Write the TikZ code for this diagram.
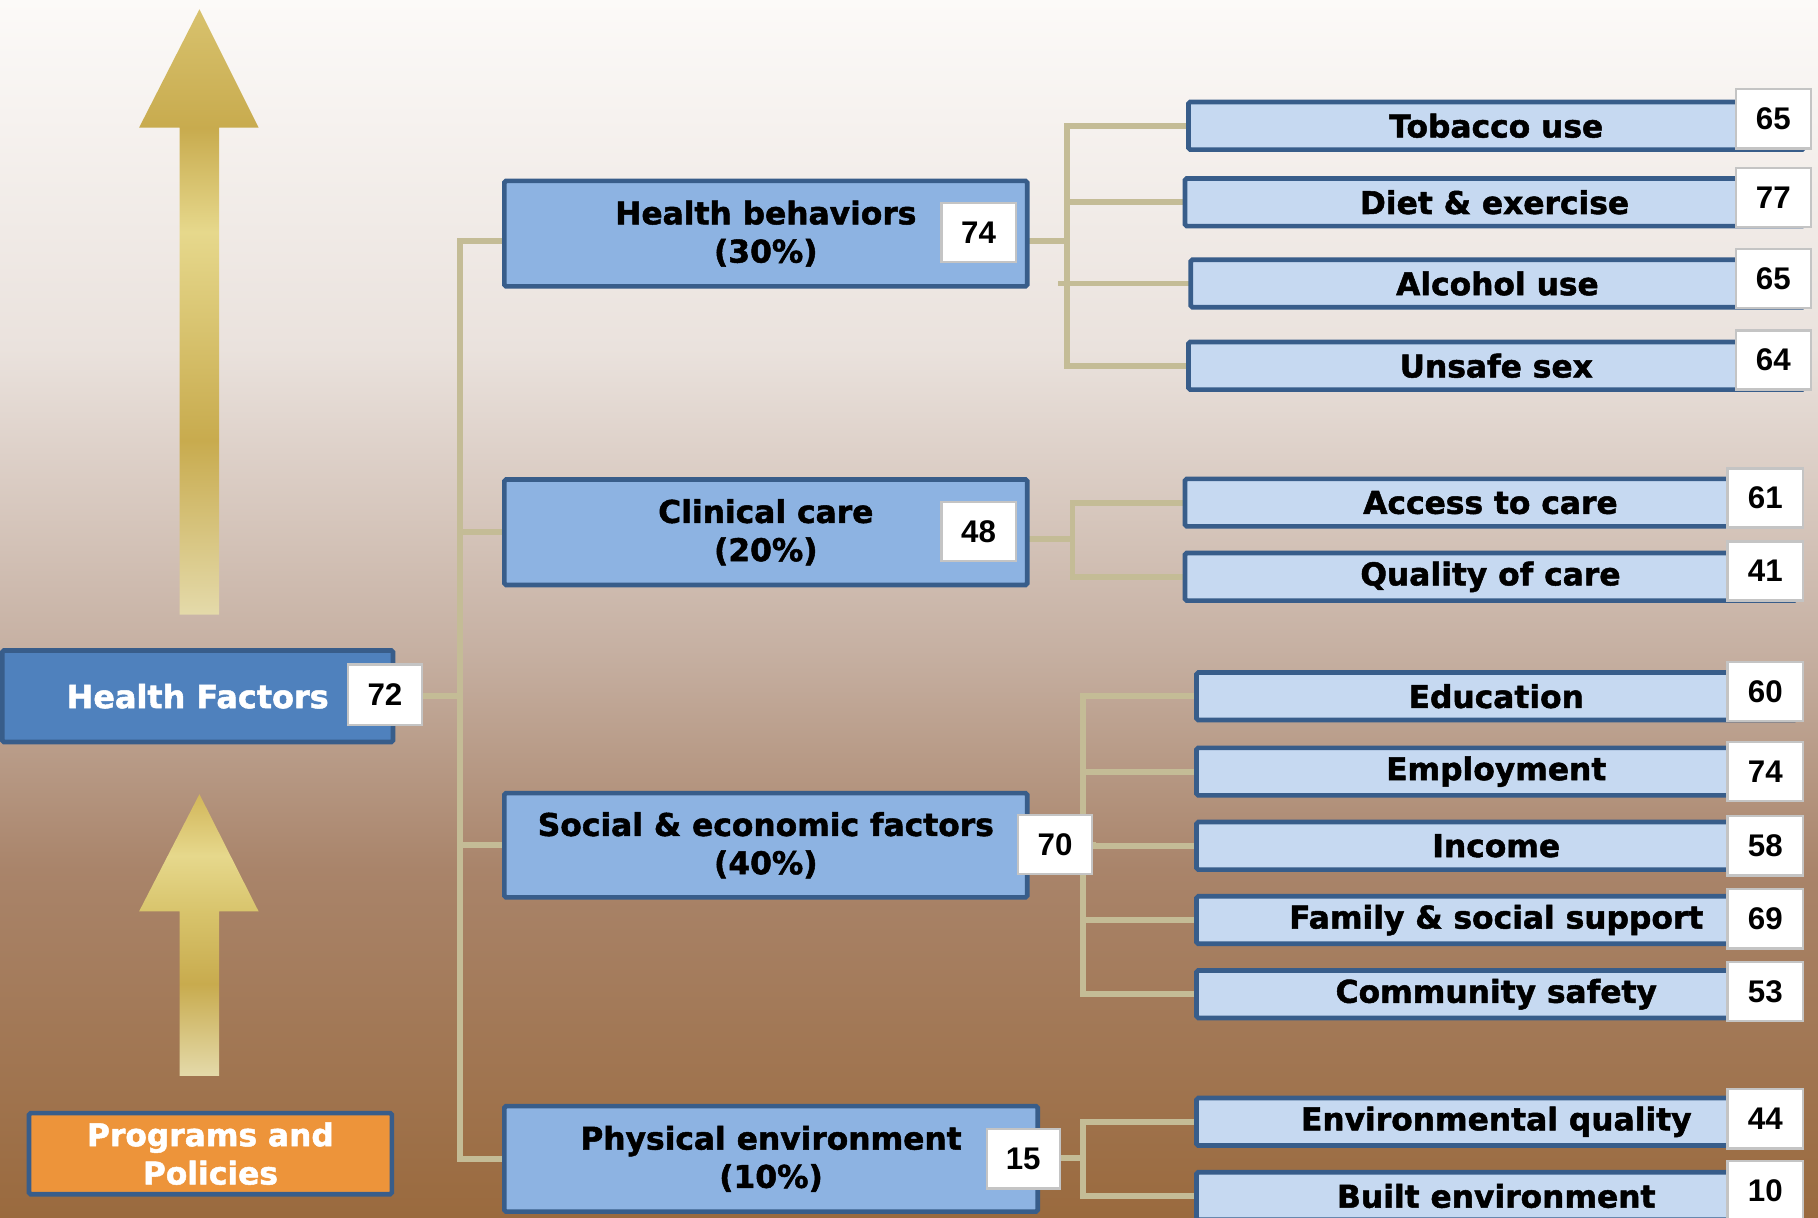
\documentclass[tikz,border=0pt]{standalone}
\usepackage{fontspec}
\newfontfamily\lblfont{DejaVu Sans}[BoldFeatures={FakeBold=1.6}]
\newfontfamily\numfont{Liberation Sans}
\usetikzlibrary{calc}
\definecolor{bordblue}{HTML}{385D8A}
\definecolor{hfblue}{HTML}{4F81BD}
\definecolor{midblue}{HTML}{8DB3E2}
\definecolor{lightblue}{HTML}{C6D9F1}
\definecolor{orangebox}{HTML}{ED943A}
\definecolor{conncol}{HTML}{C4BC96}
\definecolor{numgray}{HTML}{C4C4C4}
\definecolor{bgA}{HTML}{FCFAF8}
\definecolor{bgB}{HTML}{EAE2DD}
\definecolor{bgC}{HTML}{C6B0A2}
\definecolor{bgD}{HTML}{A9846A}
\definecolor{bgE}{HTML}{9A6A3E}
\definecolor{ap}{HTML}{E4DAAA}
\definecolor{ad}{HTML}{C8AB4E}
\definecolor{al}{HTML}{E6D88C}
\definecolor{at}{HTML}{D8C26E}
\definecolor{ab}{HTML}{D8C46C}
\definecolor{at2}{HTML}{D2B65A}
\pgfdeclareverticalshading{bgsh}{100bp}{color(0bp)=(bgE); color(25bp)=(bgE); color(39.3bp)=(bgD); color(48.3bp)=(bgC); color(60.7bp)=(bgB); color(75bp)=(bgA); color(100bp)=(bgA)}
\pgfdeclareverticalshading{arrowtop}{100bp}{color(0bp)=(ap); color(25bp)=(ap); color(39.4bp)=(ad); color(56.6bp)=(al); color(65.2bp)=(ad); color(75bp)=(at); color(100bp)=(at)}
\pgfdeclareverticalshading{arrowbot}{100bp}{color(0bp)=(ap); color(25bp)=(ap); color(41.3bp)=(ad); color(54.2bp)=(ab); color(64.1bp)=(al); color(75bp)=(at2); color(100bp)=(at2)}
\pgfdeclarelayer{back}
\pgfdeclarelayer{conn}
\pgfsetlayers{back,conn,main}
\tikzset{
  lbl/.style={font={\lblfont\bfseries\fontsize{27}{33}\selectfont}, align=center, inner sep=0pt},
  hfbox/.style={lbl, draw=bordblue, line width=4pt, fill=hfblue, text=white, rounded corners=1.5pt},
  ppbox/.style={lbl, draw=bordblue, line width=4pt, fill=orangebox, text=white, rounded corners=1.5pt},
  lvbox/.style={lbl, draw=bordblue, line width=4pt, fill=midblue, text=black, rounded corners=1.5pt, minimum height=91pt},
  chbox/.style={lbl, draw=bordblue, line width=4pt, fill=lightblue, text=black, rounded corners=1.5pt, minimum height=41pt},
  numbox/.style={draw=numgray, line width=2pt, fill=white, text=black, inner sep=0pt,
     font={\numfont\bfseries\fontsize{27}{30}\selectfont}, minimum height=51pt},
  conn/.style={draw=conncol, line width=5pt, line cap=rect}
}
\begin{document}
\begin{tikzpicture}[x=1pt,y=-1pt]
\useasboundingbox (0,0) rectangle (1568,1050);
\clip (0,0) rectangle (1568,1050);
\begin{pgfonlayer}{back}
\shade[shading=bgsh] (0,0) rectangle (1568,1050);
\shade[shading=arrowtop] (155,530) -- (155,110) -- (120,110) -- (172,8) -- (223,110) -- (189,110) -- (189,530) -- cycle;
\shade[shading=arrowbot] (155,928) -- (155,786) -- (120,786) -- (172,685) -- (223,786) -- (189,786) -- (189,928) -- cycle;
\end{pgfonlayer}

% left column
\node[hfbox, minimum width=337pt, minimum height=79pt, font={\lblfont\bfseries\fontsize{27.5}{33}\selectfont}] (hf) at (170.5,600.5) {Health Factors};
\node[numbox, minimum width=64pt, minimum height=52pt] (n72) at (332,599) {72};
\node[ppbox, minimum width=313pt, minimum height=70pt] (pp) at (181.5,995) {Programs and\\Policies};

% level 2
\node[lvbox, minimum width=451pt] (hb) at (660.5,201.5) {Health behaviors\\(30\%)};
\node[numbox, minimum width=64pt] (nhb) at (844,200.5) {74};
\node[lvbox, minimum width=451pt] (cc) at (660.5,459) {Clinical care\\(20\%)};
\node[numbox, minimum width=64pt] (ncc) at (844,458.5) {48};
\node[lvbox, minimum width=451pt, minimum height=90pt] (se) at (660.5,729) {Social \& economic factors\\(40\%)};
\node[numbox, minimum width=64pt] (nse) at (910,728.5) {70};
\node[lvbox, minimum width=460pt] (pe) at (665,999.5) {Physical environment\\(10\%)};
\node[numbox, minimum width=63pt] (npe) at (882.5,999.5) {15};

% health behaviors children
\node[chbox, minimum width=531pt] (tob) at (1290.5,108.5) {Tobacco use};
\node[numbox, minimum width=65pt] (ntob) at (1529.5,102.5) {65};
\node[chbox, minimum width=534pt] (diet) at (1289,174.5) {Diet \& exercise};
\node[numbox, minimum width=65pt] (ndiet) at (1529.5,170.5) {77};
\node[chbox, minimum width=529pt] (alc) at (1291.5,244.5) {Alcohol use};
\node[numbox, minimum width=65pt] (nalc) at (1529.5,240) {65};
\node[chbox, minimum width=531pt] (uns) at (1290.5,315.5) {Unsafe sex};
\node[numbox, minimum width=65pt] (nuns) at (1529.5,310.5) {64};

% clinical care children
\node[chbox, minimum width=527pt] (acc) at (1285.5,433.5) {Access to care};
\node[numbox, minimum width=65pt] (nacc) at (1522.5,429.5) {61};
\node[chbox, minimum width=527pt] (qual) at (1285.5,497.5) {Quality of care};
\node[numbox, minimum width=65pt] (nqual) at (1522.5,492.5) {41};

% social & economic children
\node[chbox, minimum width=517pt] (edu) at (1290.5,600.5) {Education};
\node[numbox, minimum width=65pt] (nedu) at (1522.5,596.5) {60};
\node[chbox, minimum width=517pt] (emp) at (1290.5,665.5) {Employment};
\node[numbox, minimum width=65pt] (nemp) at (1522.5,665.5) {74};
\node[chbox, minimum width=517pt] (inc) at (1290.5,729.5) {Income};
\node[numbox, minimum width=65pt] (ninc) at (1522.5,729.5) {58};
\node[chbox, minimum width=517pt] (fam) at (1290.5,793.5) {Family \& social support};
\node[numbox, minimum width=65pt] (nfam) at (1522.5,792.5) {69};
\node[chbox, minimum width=517pt] (com) at (1290.5,857.5) {Community safety};
\node[numbox, minimum width=65pt] (ncom) at (1522.5,855) {53};

% physical environment children
\node[chbox, minimum width=517pt] (env) at (1290.5,967.5) {Environmental quality};
\node[numbox, minimum width=65pt] (nenv) at (1522.5,965) {44};
\node[chbox, minimum width=517pt] (blt) at (1290.5,1031.5) {Built environment};
\node[numbox, minimum width=65pt] (nblt) at (1522.5,1027) {10};

% trunk coordinates
\coordinate (T0) at (397,600);
\coordinate (T0b) at (397,208);
\coordinate (T1) at (920,208);
\coordinate (T2) at (925,465);
\coordinate (T3) at (934,729);
\coordinate (T4) at (934,999);

\begin{pgfonlayer}{conn}
% health factors tree
\draw[conn] (n72.east |- T0) -- (T0);
\draw[conn] (hb.west |- T0b) -- (T0b);
\draw[conn] (cc.west) -- (cc.west -| T0);
\draw[conn] (se.west) -- (se.west -| T0);
\draw[conn] (pe.west) -- (pe.west -| T0);
\draw[conn] (T0b) -- (pe.west -| T0);
% health behaviors
\draw[conn] (hb.east |- T1) -- (T1);
\draw[conn] (tob.west -| T1) -- (uns.west -| T1);
\draw[conn] (tob.west) -- (tob.west -| T1);
\draw[conn] (diet.west) -- (diet.west -| T1);
\draw[conn] (alc.west) -- ($(alc.west -| T1)+(-5,0)$);
\draw[conn] (uns.west) -- (uns.west -| T1);
% clinical care
\draw[conn] (cc.east |- T2) -- (T2);
\draw[conn] (acc.west -| T2) -- (qual.west -| T2);
\draw[conn] (acc.west) -- (acc.west -| T2);
\draw[conn] (qual.west) -- (qual.west -| T2);
% social & economic
\draw[conn] (nse.east |- T3) -- (T3);
\draw[conn] (edu.west -| T3) -- (com.west -| T3);
\draw[conn] (edu.west) -- (edu.west -| T3);
\draw[conn] (emp.west) -- (emp.west -| T3);
\draw[conn] (inc.west) -- (inc.west -| T3);
\draw[conn] (fam.west) -- (fam.west -| T3);
\draw[conn] (com.west) -- (com.west -| T3);
% physical environment
\draw[conn] (npe.east |- T4) -- (T4);
\draw[conn] (env.west -| T4) -- (blt.west -| T4);
\draw[conn] (env.west) -- (env.west -| T4);
\draw[conn] (blt.west) -- (blt.west -| T4);
\end{pgfonlayer}
\end{tikzpicture}
\end{document}
